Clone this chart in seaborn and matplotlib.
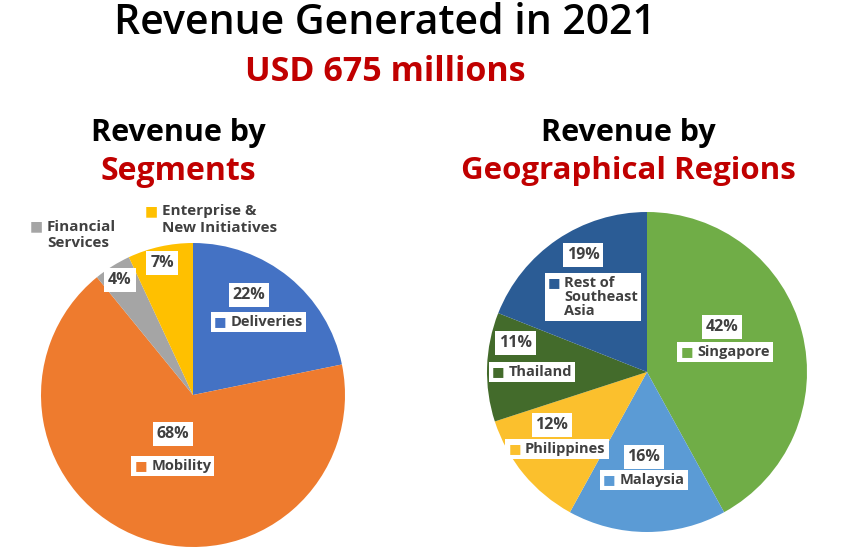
import matplotlib
matplotlib.use("Agg")
import matplotlib.pyplot as plt
import seaborn as sns
from matplotlib.offsetbox import TextArea, HPacker, AnnotationBbox

sns.set_theme(style="white")
plt.rcParams['font.family'] = ['Open Sans', 'DejaVu Sans']

# ---- data ----
seg_names = ["Deliveries", "Mobility", "Financial\nServices", "Enterprise &\nNew Initiatives"]
seg_values = [22, 68, 4, 7]
seg_colors = ["#4472C4", "#EE7B2E", "#A5A5A5", "#FFC000"]

geo_names = ["Singapore", "Malaysia", "Philippines", "Thailand", "Rest of\nSoutheast\nAsia"]
geo_values = [42, 16, 12, 11, 19]
geo_colors = ["#70AD47", "#5B9BD5", "#FBC02D", "#436B2B", "#2B5C95"]

title = "Revenue Generated in 2021"
subtitle = "USD 675 millions"
RED = "#C00000"
TXT = "#404040"

W, H = 845, 560
fig = plt.figure(figsize=(W / 100, H / 100), dpi=100)
fig.patch.set_facecolor("white")


def px_axes(cx, cy, r):
    return fig.add_axes([(cx - r) / W, 1 - (cy + r) / H, 2 * r / W, 2 * r / H])


def draw_pie(ax, values, colors):
    ax.pie(values, colors=colors, startangle=90, counterclock=False,
           wedgeprops=dict(linewidth=0), normalize=True)
    ax.set_xlim(-1, 1)
    ax.set_ylim(-1, 1)
    ax.set_aspect("equal")
    ax.axis("off")


def pct_label(ax, xy, text, fs=11.5):
    ax.text(xy[0], xy[1], text, ha="center", va="center", fontsize=fs,
            fontweight="bold", color=TXT,
            bbox=dict(boxstyle="square,pad=0.25", fc="white", ec="none"))


def name_label(ax, xy, name, color, fs=10.5, frame=True, ls=1.0):
    sq = TextArea("■", textprops=dict(color=color, fontsize=fs - 1, family="DejaVu Sans"))
    tx = TextArea(name, textprops=dict(color=TXT, fontsize=fs, fontweight="bold",
                                       linespacing=ls))
    pack = HPacker(children=[sq, tx], align="top", pad=0, sep=3)
    ab = AnnotationBbox(pack, xy, xycoords="data", frameon=frame,
                        box_alignment=(0.5, 0.5), pad=0.2, annotation_clip=False,
                        bboxprops=dict(fc="white", ec="none", boxstyle="square,pad=0.2"))
    ax.add_artist(ab)


# ---- left pie ----
axL = px_axes(193, 395, 152)
draw_pie(axL, seg_values, seg_colors)
pct_label(axL, (0.368, 0.658), f"{seg_values[0]}%")
name_label(axL, (0.43, 0.48), seg_names[0], seg_colors[0])
pct_label(axL, (-0.132, -0.257), f"{seg_values[1]}%")
name_label(axL, (-0.132, -0.467), seg_names[1], seg_colors[1])
pct_label(axL, (-0.480, 0.757), f"{seg_values[2]}%")
pct_label(axL, (-0.204, 0.868), f"{seg_values[3]}%")
name_label(axL, (-0.79, 1.055), seg_names[2], seg_colors[2], frame=False, fs=11, ls=1.2)
name_label(axL, (0.12, 1.155), seg_names[3], seg_colors[3], frame=False, fs=11, ls=1.2)

# ---- right pie ----
axR = px_axes(647, 372, 160)
draw_pie(axR, geo_values, geo_colors)
geo_pct_xy = [(0.469, 0.281), (-0.019, -0.531), (-0.594, -0.331), (-0.819, 0.181), (-0.40, 0.731)]
geo_name_xy = [(0.488, 0.125), (-0.019, -0.675), (-0.563, -0.481), (-0.719, 0.0), (-0.338, 0.469)]
for v, n, c, pxy, nxy in zip(geo_values, geo_names, geo_colors, geo_pct_xy, geo_name_xy):
    pct_label(axR, pxy, f"{v}%")
    name_label(axR, nxy, n, c)

# ---- titles ----
fig.text(385 / W, 1 - 23 / H, title, ha="center", va="center", fontsize=29.5,
         fontweight="semibold", color="black")
fig.text(385 / W, 1 - 72 / H, subtitle, ha="center", va="center", fontsize=24.5,
         fontweight="bold", color=RED)
fig.text(178 / W, 1 - 133 / H, "Revenue by", ha="center", va="center", fontsize=22,
         fontweight="bold", color="black")
fig.text(178 / W, 1 - 171 / H, "Segments", ha="center", va="center", fontsize=23,
         fontweight="bold", color=RED)
fig.text(628 / W, 1 - 133 / H, "Revenue by", ha="center", va="center", fontsize=22,
         fontweight="bold", color="black")
fig.text(628 / W, 1 - 171 / H, "Geographical Regions", ha="center", va="center", fontsize=22.5,
         fontweight="bold", color=RED)

fig.savefig("out.png", dpi=100, facecolor="white")
